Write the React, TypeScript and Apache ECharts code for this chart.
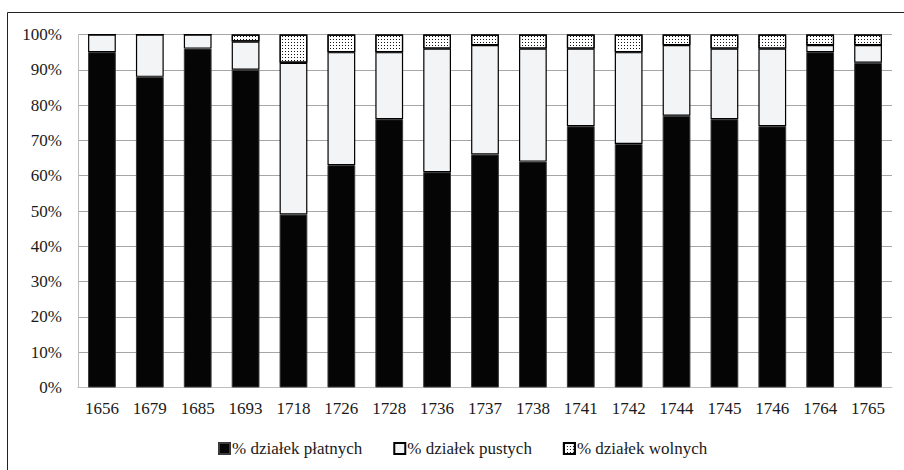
import React, { useEffect, useRef } from "react";
import * as echarts from "echarts";

const years = ["1656","1679","1685","1693","1718","1726","1728","1736","1737","1738","1741","1742","1744","1745","1746","1764","1765"];
const platnych = [95, 88, 96, 90, 49, 63, 76, 61, 66, 64, 74, 69, 77, 76, 74, 95, 92];
const pustych = [5, 12, 4, 8, 43, 32, 19, 35, 31, 32, 22, 26, 20, 20, 22, 2, 5];
const wolnych = [0, 0, 0, 2, 8, 5, 5, 4, 3, 4, 4, 5, 3, 4, 4, 3, 3];
const seriesNames = ["% działek płatnych", "% działek pustych", "% działek wolnych"];

const FONT = "Liberation Serif, serif";
const FS = 17;

export default function App() {
  const ref = useRef<HTMLDivElement>(null);
  useEffect(() => {
    if (!ref.current) return;
    const chart = echarts.init(ref.current, undefined, { renderer: "svg" });
    const dotDecal = {
      symbol: "rect",
      symbolSize: 1,
      color: "#111",
      backgroundColor: "#fff",
      dashArrayX: [1, 2],
      dashArrayY: [1, 2],
    };
    chart.setOption({
      animation: false,
      backgroundColor: "#fff",
      textStyle: { fontFamily: FONT, fontSize: FS },
      graphic: [
        {
          type: "rect",
          shape: { x: 7.5, y: 12.5, width: 920, height: 480 },
          style: { fill: "none", stroke: "#222", lineWidth: 1 },
          silent: true,
          z: 100,
        },
      ],
      grid: { left: 78, right: 12, top: 34.5, bottom: 82.5 },
      legend: {
        left: 213,
        top: 435,
        itemWidth: 11,
        itemHeight: 11,
        itemGap: 31,
        icon: "rect",
        textStyle: { fontFamily: FONT, fontSize: FS, color: "#1a1a1a", padding: [0, 0, 0, -3] },
        data: seriesNames,
      },
      xAxis: {
        type: "category",
        data: years,
        axisLine: { show: true, lineStyle: { color: "#bdbdbd", width: 1 } },
        axisTick: { show: false },
        axisLabel: { fontFamily: FONT, fontSize: FS, color: "#1a1a1a", margin: 12 },
      },
      yAxis: {
        type: "value",
        min: 0,
        max: 100,
        interval: 10,
        axisLine: { show: true, lineStyle: { color: "#bdbdbd", width: 1 } },
        axisTick: { show: false },
        splitLine: { lineStyle: { color: "#a6a6a6", width: 1 } },
        axisLabel: { fontFamily: FONT, fontSize: FS, color: "#1a1a1a", margin: 16, formatter: "{value}%" },
      },
      series: [
        {
          name: seriesNames[0],
          type: "bar",
          stack: "s",
          barWidth: "58%",
          data: platnych,
          itemStyle: { color: "#050505", borderColor: "#3a3a3a", borderWidth: 1 },
        },
        {
          name: seriesNames[1],
          type: "bar",
          stack: "s",
          data: pustych,
          itemStyle: { color: "#f3f4f6", borderColor: "#000", borderWidth: 1.2 },
        },
        {
          name: seriesNames[2],
          type: "bar",
          stack: "s",
          data: wolnych,
          itemStyle: { color: "#fff", borderColor: "#000", borderWidth: 1.2, decal: dotDecal },
        },
      ],
    });
    return () => chart.dispose();
  }, []);
  return (
    <div
      ref={ref}
      style={{ position: "fixed", left: 0, top: 0, width: 904, height: 470, background: "#fff" }}
    />
  );
}
